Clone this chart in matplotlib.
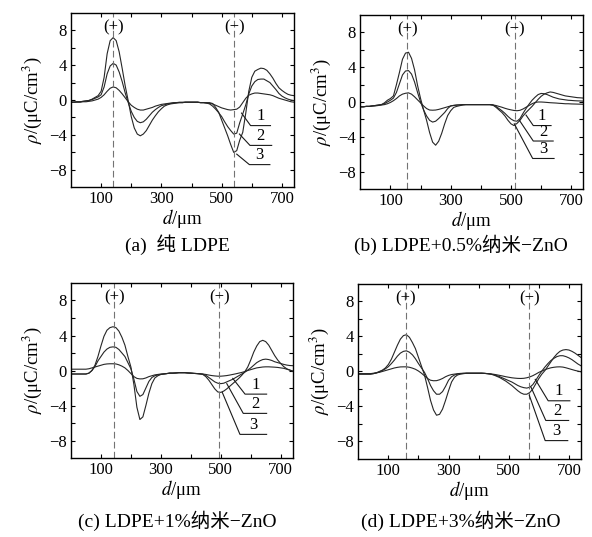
import numpy as np
import matplotlib
matplotlib.use('Agg')
import matplotlib.pyplot as plt

plt.rcParams['font.family'] = ['Liberation Serif', 'Noto Sans CJK SC']
plt.rcParams['mathtext.fontset'] = 'stix'
plt.rcParams['axes.unicode_minus'] = True

# depth positions (um) where the curves were read
d = np.arange(0, 750, 10)

# charge density (uC/cm3), curves 1..3 for each sample
a1 = [-0.25, -0.25, -0.25, -0.25, -0.2, -0.2, -0.15, -0.1, 0.0, 0.1,
      0.3, 0.6, 1.0, 1.35, 1.5, 1.4, 1.1, 0.7, 0.25, -0.2,
      -0.6, -0.85, -1.05, -1.15, -1.15, -1.05, -0.95, -0.85, -0.7, -0.6,
      -0.5, -0.45, -0.4, -0.35, -0.3, -0.3, -0.25, -0.25, -0.25, -0.25,
      -0.25, -0.25, -0.25, -0.3, -0.3, -0.35, -0.4, -0.45, -0.6, -0.75,
      -0.9, -1.0, -1.1, -1.15, -1.1, -1.05, -0.8, -0.3, 0.2, 0.55,
      0.7, 0.8, 0.8, 0.75, 0.7, 0.65, 0.6, 0.5, 0.35, 0.2,
      0.1, 0.0, -0.1, -0.2, -0.25]
a2 = [-0.25, -0.25, -0.2, -0.2, -0.15, -0.1, -0.05, 0.05, 0.2, 0.35,
      0.6, 1.5, 3.0, 3.9, 4.2, 4.0, 3.2, 2.1, 0.8, -0.3,
      -1.3, -2.0, -2.45, -2.6, -2.5, -2.2, -1.8, -1.4, -1.1, -0.85,
      -0.65, -0.55, -0.45, -0.4, -0.35, -0.3, -0.3, -0.3, -0.25, -0.25,
      -0.25, -0.25, -0.25, -0.3, -0.3, -0.35, -0.45, -0.7, -1.05, -1.45,
      -1.9, -2.5, -3.05, -3.5, -3.9, -3.8, -2.6, -1.6, -0.55, 0.7,
      1.6, 2.1, 2.35, 2.4, 2.4, 2.2, 2.0, 1.6, 1.2, 0.75,
      0.45, 0.25, 0.1, 0.0, -0.08]
a3 = [-0.25, -0.25, -0.2, -0.2, -0.15, -0.1, -0.05, 0.1, 0.3, 0.5,
      1.0, 2.6, 5.3, 6.8, 7.15, 6.8, 5.5, 3.6, 1.6, -0.1,
      -1.9, -3.2, -3.9, -4.1, -3.9, -3.5, -2.9, -2.3, -1.8, -1.35,
      -1.0, -0.7, -0.55, -0.45, -0.4, -0.35, -0.3, -0.3, -0.25, -0.25,
      -0.25, -0.25, -0.25, -0.3, -0.3, -0.3, -0.3, -0.4, -0.85, -1.4,
      -2.3, -3.2, -4.1, -5.1, -6.0, -5.8, -4.6, -3.7, -1.5, 1.0,
      2.6, 3.3, 3.5, 3.65, 3.6, 3.4, 3.0, 2.5, 1.9, 1.4,
      1.1, 0.85, 0.65, 0.55, 0.5]

b1 = [-0.55, -0.55, -0.5, -0.5, -0.45, -0.45, -0.4, -0.35, -0.3, -0.2,
      -0.05, 0.15, 0.4, 0.7, 0.9, 1.0, 1.05, 0.9, 0.6, 0.25,
      -0.1, -0.45, -0.75, -0.92, -0.94, -0.92, -0.85, -0.75, -0.65, -0.55,
      -0.45, -0.4, -0.35, -0.33, -0.3, -0.3, -0.3, -0.3, -0.3, -0.3,
      -0.3, -0.3, -0.3, -0.3, -0.33, -0.4, -0.5, -0.6, -0.72, -0.82,
      -0.9, -0.97, -1.0, -0.95, -0.8, -0.6, -0.4, -0.2, -0.05, 0.0,
      0.0, -0.02, -0.05, -0.08, -0.1, -0.12, -0.15, -0.17, -0.2, -0.2,
      -0.22, -0.23, -0.24, -0.25, -0.26]
b2 = [-0.55, -0.55, -0.5, -0.5, -0.45, -0.4, -0.35, -0.3, -0.2, 0.0,
      0.2, 0.45, 1.1, 2.1, 3.1, 3.55, 3.6, 3.2, 2.3, 1.1,
      0.0, -0.9, -1.6, -2.1, -2.3, -2.2, -1.9, -1.55, -1.2, -0.75,
      -0.45, -0.38, -0.35, -0.33, -0.3, -0.3, -0.3, -0.3, -0.3, -0.3,
      -0.3, -0.3, -0.3, -0.3, -0.35, -0.5, -0.75, -1.0, -1.3, -1.65,
      -1.95, -2.15, -2.2, -1.9, -1.3, -0.75, -0.25, 0.2, 0.55, 0.85,
      0.98, 0.95, 0.85, 0.7, 0.55, 0.45, 0.35, 0.3, 0.25, 0.2,
      0.18, 0.15, 0.13, 0.12, 0.1]
b3 = [-0.55, -0.55, -0.5, -0.5, -0.45, -0.4, -0.35, -0.3, -0.1, 0.2,
      0.4, 0.7, 2.0, 3.4, 4.9, 5.6, 5.7, 5.0, 3.7, 1.9,
      0.4, -0.9, -2.1, -3.5, -4.6, -4.95, -4.5, -3.6, -2.5, -1.55,
      -1.0, -0.62, -0.5, -0.42, -0.35, -0.3, -0.3, -0.3, -0.3, -0.3,
      -0.3, -0.3, -0.3, -0.3, -0.35, -0.6, -0.9, -1.2, -1.6, -2.1,
      -2.5, -2.7, -2.45, -2.1, -1.6, -1.2, -0.85, -0.5, -0.1, 0.3,
      0.65, 0.9, 1.05, 1.15, 1.1, 1.0, 0.9, 0.8, 0.7, 0.65,
      0.6, 0.55, 0.5, 0.48, 0.45]

c1 = [0.15, 0.15, 0.15, 0.15, 0.15, 0.15, 0.2, 0.3, 0.4, 0.5,
      0.6, 0.7, 0.75, 0.77, 0.77, 0.75, 0.65, 0.5, 0.3, 0.0,
      -0.35, -0.7, -0.9, -0.96, -0.95, -0.85, -0.7, -0.6, -0.5, -0.45,
      -0.4, -0.38, -0.35, -0.3, -0.3, -0.28, -0.25, -0.25, -0.25, -0.28,
      -0.3, -0.33, -0.35, -0.38, -0.4, -0.45, -0.52, -0.58, -0.62, -0.65,
      -0.65, -0.62, -0.58, -0.52, -0.45, -0.38, -0.3, -0.22, -0.12, 0.0,
      0.1, 0.2, 0.3, 0.35, 0.4, 0.42, 0.42, 0.4, 0.38, 0.35,
      0.3, 0.25, 0.15, 0.05, -0.05]
c2 = [-0.4, -0.4, -0.4, -0.4, -0.4, -0.4, -0.3, 0.0, 0.45, 1.1,
      1.6, 2.1, 2.45, 2.65, 2.7, 2.65, 2.4, 2.0, 1.6, 0.9,
      0.2, -1.0, -2.4, -2.95, -2.75, -2.0, -1.25, -0.8, -0.6, -0.5,
      -0.45, -0.4, -0.35, -0.3, -0.3, -0.28, -0.25, -0.25, -0.25, -0.28,
      -0.3, -0.33, -0.35, -0.38, -0.42, -0.55, -0.8, -1.05, -1.3, -1.45,
      -1.5, -1.45, -1.3, -1.15, -1.0, -0.8, -0.6, -0.4, -0.2, 0.05,
      0.3, 0.6, 0.9, 1.1, 1.25, 1.3, 1.25, 1.15, 1.0, 0.9,
      0.8, 0.7, 0.62, 0.57, 0.55]
c3 = [-0.4, -0.4, -0.4, -0.4, -0.4, -0.4, -0.3, 0.0, 0.6, 1.6,
      2.8, 3.9, 4.6, 4.9, 5.0, 4.9, 4.5, 3.8, 2.9, 1.6,
      0.4, -1.6, -4.2, -5.6, -5.3, -4.0, -2.6, -1.5, -0.85, -0.6,
      -0.45, -0.4, -0.35, -0.3, -0.3, -0.28, -0.25, -0.25, -0.25, -0.28,
      -0.3, -0.33, -0.35, -0.38, -0.45, -0.7, -1.1, -1.6, -2.1, -2.45,
      -2.5, -2.35, -2.1, -1.8, -1.5, -1.2, -0.9, -0.55, -0.15, 0.4,
      1.2, 2.1, 2.8, 3.3, 3.45, 3.3, 2.9, 2.3, 1.7, 1.2,
      0.8, 0.45, 0.2, 0.05, -0.1]

e1 = [-0.25, -0.25, -0.25, -0.25, -0.25, -0.2, -0.15, -0.1, 0.0, 0.1,
      0.2, 0.3, 0.4, 0.47, 0.52, 0.53, 0.53, 0.48, 0.38, 0.25,
      0.05, -0.2, -0.5, -0.8, -1.0, -1.06, -1.05, -0.95, -0.8, -0.6,
      -0.45, -0.35, -0.3, -0.25, -0.22, -0.2, -0.2, -0.2, -0.2, -0.2,
      -0.2, -0.2, -0.22, -0.25, -0.28, -0.32, -0.38, -0.45, -0.52, -0.6,
      -0.66, -0.72, -0.76, -0.79, -0.8, -0.78, -0.72, -0.62, -0.48, -0.3,
      -0.1, 0.05, 0.2, 0.32, 0.42, 0.48, 0.52, 0.53, 0.5, 0.42,
      0.32, 0.22, 0.12, 0.04, -0.04]
e2 = [-0.3, -0.3, -0.3, -0.3, -0.3, -0.25, -0.18, -0.05, 0.1, 0.3,
      0.55, 0.9, 1.3, 1.75, 2.1, 2.3, 2.36, 2.2, 1.9, 1.45,
      0.9, 0.4, -0.1, -0.8, -1.6, -2.2, -2.6, -2.6, -2.3, -1.7,
      -1.0, -0.6, -0.4, -0.3, -0.25, -0.22, -0.2, -0.2, -0.2, -0.2,
      -0.2, -0.2, -0.22, -0.25, -0.3, -0.38, -0.48, -0.6, -0.75, -0.9,
      -1.05, -1.2, -1.4, -1.6, -1.75, -1.85, -1.9, -1.8, -1.5, -1.0,
      -0.45, 0.05, 0.5, 0.9, 1.25, 1.5, 1.7, 1.8, 1.8, 1.7,
      1.55, 1.35, 1.1, 0.85, 0.65]
e3 = [-0.3, -0.3, -0.3, -0.3, -0.3, -0.25, -0.15, 0.0, 0.15, 0.4,
      0.8, 1.4, 2.2, 3.0, 3.7, 4.1, 4.2, 3.9, 3.3, 2.6,
      1.6, 0.6, -0.4, -1.8, -3.3, -4.4, -5.0, -4.9, -4.3, -3.3,
      -2.2, -1.2, -0.65, -0.4, -0.3, -0.25, -0.2, -0.2, -0.2, -0.2,
      -0.2, -0.2, -0.22, -0.25, -0.3, -0.4, -0.55, -0.7, -0.9, -1.1,
      -1.35, -1.6, -1.9, -2.2, -2.45, -2.6, -2.6, -2.4, -2.0, -1.4,
      -0.8, -0.3, 0.1, 0.6, 1.1, 1.6, 2.0, 2.3, 2.45, 2.5,
      2.45, 2.3, 2.1, 1.85, 1.6]

# electrode positions (+) and (-)
anode = [140, 156, 144, 158]
cathode = [542, 513, 495, 568]

captions = ['(a)  纯 LDPE', '(b) LDPE+0.5%纳米−ZnO',
            '(c) LDPE+1%纳米−ZnO', '(d) LDPE+3%纳米−ZnO']
curve_names = ['1', '2', '3']

# leader lines for labels 1..3: start on curve, elbow, end of underline
leaders = [
    [((566, -1.5), (596, -2.93), 662), ((559, -3.9), (594, -5.2), 666), ((550, -6.2), (592, -7.4), 660)],
    [((550, -1.5), (574, -2.7), 633), ((528, -2.1), (574, -4.47), 640), ((511, -2.5), (572, -6.47), 643)],
    [((540, -0.9), (581, -2.7), 653), ((520, -1.5), (575, -4.9), 653), ((505, -2.5), (564, -7.3), 653)],
    [((588, -0.9), (631, -3.35), 703), ((574, -1.8), (623, -5.6), 699), ((568, -2.7), (621, -7.9), 696)],
]

series = [[a1, a2, a3], [b1, b2, b3], [c1, c2, c3], [e1, e2, e3]]

fig = plt.figure(figsize=(5.92, 5.37), dpi=100)
boxes = [[0.1199, 0.6512, 0.3767, 0.3251],
         [0.6086, 0.6475, 0.3767, 0.3251],
         [0.1199, 0.1471, 0.3745, 0.3259],
         [0.6052, 0.1453, 0.3762, 0.3259]]
cap_pos = [(0.300, 0.545), (0.779, 0.545), (0.300, 0.031), (0.779, 0.031)]

for i in range(4):
    ax = fig.add_axes(boxes[i])
    for ys in series[i]:
        ax.plot(d, ys, color='0.15', lw=0.8)
    for xv in (anode[i], cathode[i]):
        ax.axvline(xv, color='0.45', lw=0.8, ls=(0, (6, 3)))
    ax.text(anode[i], 8.3, '(+)', ha='center', va='center', fontsize=12)
    ax.text(cathode[i], 8.3, '(−)', ha='center', va='center', fontsize=12)
    for name, (st, el, xe) in zip(curve_names, leaders[i]):
        ax.plot([st[0], el[0], xe], [st[1], el[1], el[1]], color='0.1', lw=0.8)
        ax.text((el[0] + xe) / 2, el[1] + 0.15, name, ha='center', va='bottom', fontsize=12)

    ax.set_xlim(0, 740)
    ax.set_ylim(-10, 10)
    ax.set_xticks([100, 300, 500, 700])
    ax.set_xticks([200, 400, 600], minor=True)
    ax.set_yticks([-8, -4, 0, 4, 8])
    ax.set_yticks([-6, -2, 2, 6], minor=True)
    ax.tick_params(which='both', direction='in', top=True, right=True,
                   length=3, width=0.8, labelsize=12, pad=3)
    for s in ax.spines.values():
        s.set_linewidth(1.0)
    ax.set_xlabel(r'$d$/μm', fontsize=13.5, labelpad=0)
    ax.set_ylabel(r'$\rho$/(μC/cm$^3$)', fontsize=13.5, labelpad=4)
    fig.text(cap_pos[i][0], cap_pos[i][1], captions[i], ha='center', va='center', fontsize=14)

fig.savefig('out.png', dpi=100)
